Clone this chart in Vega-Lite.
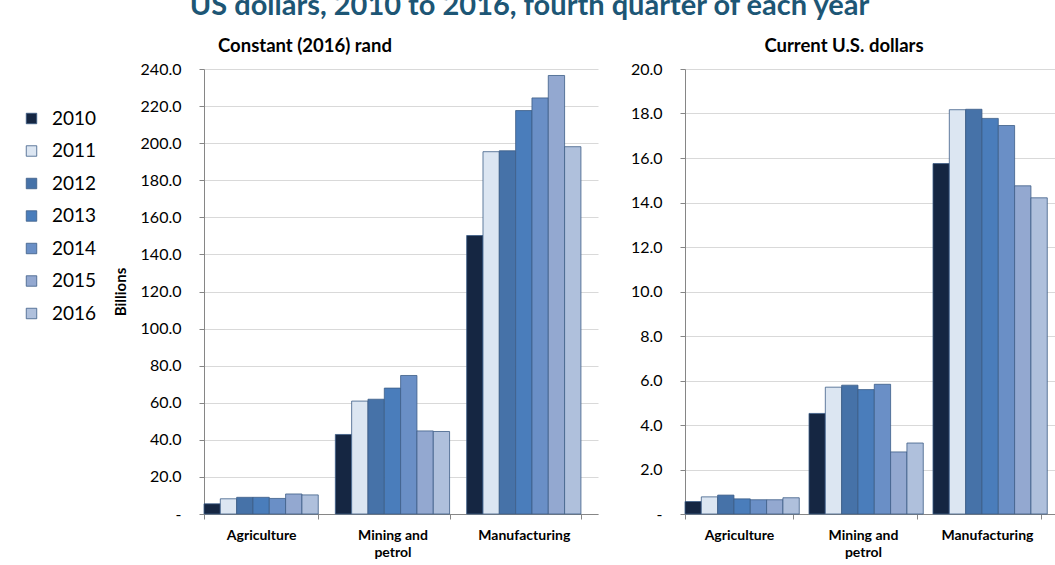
{
  "$schema": "https://vega.github.io/schema/vega-lite/v6.json",
  "background": "white",
  "padding": {"left": 22, "top": -8, "right": 0, "bottom": 0},
  "title": {
    "text": "US dollars, 2010 to 2016, fourth quarter of each year",
    "font": "Lato",
    "fontSize": 29,
    "fontWeight": "bold",
    "color": "#1d5675",
    "anchor": "middle",
    "dx": -10,
    "offset": 15.5
  },
  "data": {
    "values": [
      {"panel": "rand", "sector": "Agriculture", "year": "2010", "value": 5.5},
      {"panel": "rand", "sector": "Agriculture", "year": "2011", "value": 8.2},
      {"panel": "rand", "sector": "Agriculture", "year": "2012", "value": 9.0},
      {"panel": "rand", "sector": "Agriculture", "year": "2013", "value": 9.0},
      {"panel": "rand", "sector": "Agriculture", "year": "2014", "value": 8.4},
      {"panel": "rand", "sector": "Agriculture", "year": "2015", "value": 10.8},
      {"panel": "rand", "sector": "Agriculture", "year": "2016", "value": 10.3},
      {"panel": "rand", "sector": "Mining and petrol", "year": "2010", "value": 42.9},
      {"panel": "rand", "sector": "Mining and petrol", "year": "2011", "value": 60.9},
      {"panel": "rand", "sector": "Mining and petrol", "year": "2012", "value": 61.9},
      {"panel": "rand", "sector": "Mining and petrol", "year": "2013", "value": 67.9},
      {"panel": "rand", "sector": "Mining and petrol", "year": "2014", "value": 74.7},
      {"panel": "rand", "sector": "Mining and petrol", "year": "2015", "value": 44.8},
      {"panel": "rand", "sector": "Mining and petrol", "year": "2016", "value": 44.5},
      {"panel": "rand", "sector": "Manufacturing", "year": "2010", "value": 150.2},
      {"panel": "rand", "sector": "Manufacturing", "year": "2011", "value": 195.4},
      {"panel": "rand", "sector": "Manufacturing", "year": "2012", "value": 195.9},
      {"panel": "rand", "sector": "Manufacturing", "year": "2013", "value": 217.6},
      {"panel": "rand", "sector": "Manufacturing", "year": "2014", "value": 224.4},
      {"panel": "rand", "sector": "Manufacturing", "year": "2015", "value": 236.5},
      {"panel": "rand", "sector": "Manufacturing", "year": "2016", "value": 198.1},
      {"panel": "usd", "sector": "Agriculture", "year": "2010", "value": 0.56},
      {"panel": "usd", "sector": "Agriculture", "year": "2011", "value": 0.77},
      {"panel": "usd", "sector": "Agriculture", "year": "2012", "value": 0.85},
      {"panel": "usd", "sector": "Agriculture", "year": "2013", "value": 0.68},
      {"panel": "usd", "sector": "Agriculture", "year": "2014", "value": 0.64},
      {"panel": "usd", "sector": "Agriculture", "year": "2015", "value": 0.64},
      {"panel": "usd", "sector": "Agriculture", "year": "2016", "value": 0.73},
      {"panel": "usd", "sector": "Mining and petrol", "year": "2010", "value": 4.52},
      {"panel": "usd", "sector": "Mining and petrol", "year": "2011", "value": 5.70},
      {"panel": "usd", "sector": "Mining and petrol", "year": "2012", "value": 5.79},
      {"panel": "usd", "sector": "Mining and petrol", "year": "2013", "value": 5.59},
      {"panel": "usd", "sector": "Mining and petrol", "year": "2014", "value": 5.83},
      {"panel": "usd", "sector": "Mining and petrol", "year": "2015", "value": 2.79},
      {"panel": "usd", "sector": "Mining and petrol", "year": "2016", "value": 3.19},
      {"panel": "usd", "sector": "Manufacturing", "year": "2010", "value": 15.75},
      {"panel": "usd", "sector": "Manufacturing", "year": "2011", "value": 18.17},
      {"panel": "usd", "sector": "Manufacturing", "year": "2012", "value": 18.19},
      {"panel": "usd", "sector": "Manufacturing", "year": "2013", "value": 17.78},
      {"panel": "usd", "sector": "Manufacturing", "year": "2014", "value": 17.46},
      {"panel": "usd", "sector": "Manufacturing", "year": "2015", "value": 14.75},
      {"panel": "usd", "sector": "Manufacturing", "year": "2016", "value": 14.21}
    ]
  },
  "spacing": 32,
  "resolve": {"legend": {"color": "independent"}},
  "hconcat": [
    {
      "width": 394,
      "height": 445,
      "title": {"text": "Constant (2016) rand", "dx": -96},
      "transform": [{"filter": "datum.panel == 'rand'"}],
      "mark": {"type": "bar", "stroke": "#3c5d87", "strokeWidth": 0.8},
      "encoding": {
        "x": {
          "field": "sector",
          "type": "nominal",
          "sort": ["Agriculture", "Mining and petrol", "Manufacturing"],
          "scale": {"paddingInner": 0.13, "paddingOuter": 0.065, "align": 0},
          "axis": {"title": null, "labelExpr": "datum.label == 'Mining and petrol' ? ['Mining and', 'petrol'] : datum.label"}
        },
        "xOffset": {"field": "year", "type": "nominal", "scale": {"paddingInner": 0, "paddingOuter": 0}},
        "y": {
          "field": "value",
          "type": "quantitative",
          "scale": {"domain": [0, 240], "nice": false},
          "axis": {
            "title": "Billions",
            "values": [0, 20, 40, 60, 80, 100, 120, 140, 160, 180, 200, 220, 240],
            "labelExpr": "datum.value == 0 ? '-' : format(datum.value, '.1f')"
          }
        },
        "color": {
          "field": "year",
          "type": "nominal",
          "scale": {"range": ["#152642", "#dce6f2", "#4672a8", "#4a7dbb", "#6a8fc6", "#93a8d0", "#afc0dc"]},
          "legend": {
            "orient": "none",
            "legendX": -182,
            "legendY": 40,
            "title": null,
            "symbolType": "square",
            "symbolSize": 110,
            "symbolStrokeColor": "#3c5d87",
            "symbolStrokeWidth": 0.8,
            "labelFont": "Lato",
            "labelFontSize": 19,
            "labelColor": "black",
            "labelOffset": 11,
            "rowPadding": 12.5
          }
        }
      }
    },
    {
      "width": 372,
      "height": 445,
      "title": {"text": "Current U.S. dollars", "dx": -27},
      "transform": [{"filter": "datum.panel == 'usd'"}],
      "mark": {"type": "bar", "stroke": "#3c5d87", "strokeWidth": 0.8},
      "encoding": {
        "x": {
          "field": "sector",
          "type": "nominal",
          "sort": ["Agriculture", "Mining and petrol", "Manufacturing"],
          "scale": {"paddingInner": 0.13, "paddingOuter": 0.065, "align": 0},
          "axis": {"title": null, "labelExpr": "datum.label == 'Mining and petrol' ? ['Mining and', 'petrol'] : datum.label"}
        },
        "xOffset": {"field": "year", "type": "nominal", "scale": {"paddingInner": 0, "paddingOuter": 0}},
        "y": {
          "field": "value",
          "type": "quantitative",
          "scale": {"domain": [0, 20], "nice": false},
          "axis": {
            "title": null,
            "values": [0, 2, 4, 6, 8, 10, 12, 14, 16, 18, 20],
            "labelExpr": "datum.value == 0 ? '-' : format(datum.value, '.1f')"
          }
        },
        "color": {
          "field": "year",
          "type": "nominal",
          "scale": {"range": ["#152642", "#dce6f2", "#4672a8", "#4a7dbb", "#6a8fc6", "#93a8d0", "#afc0dc"]},
          "legend": null
        }
      }
    }
  ],
  "config": {
    "view": {"stroke": null},
    "title": {"font": "Lato", "fontSize": 18.5, "fontWeight": "bold", "color": "black", "offset": 6},
    "axis": {
      "labelFont": "Lato",
      "labelColor": "black",
      "titleFont": "Lato",
      "titleColor": "black",
      "domainColor": "#868686",
      "tickColor": "#868686",
      "gridColor": "#d9d9d9",
      "tickSize": 5
    },
    "axisX": {
      "grid": false,
      "tickBand": "extent",
      "labelFontWeight": "bold",
      "labelFontSize": 14,
      "labelAngle": 0,
      "labelPadding": 9,
      "labelLineHeight": 17
    },
    "axisY": {
      "labelFontSize": 16,
      "labelPadding": 18,
      "titleFontSize": 15,
      "titleFontWeight": "bold",
      "titlePadding": 12
    }
  }
}
